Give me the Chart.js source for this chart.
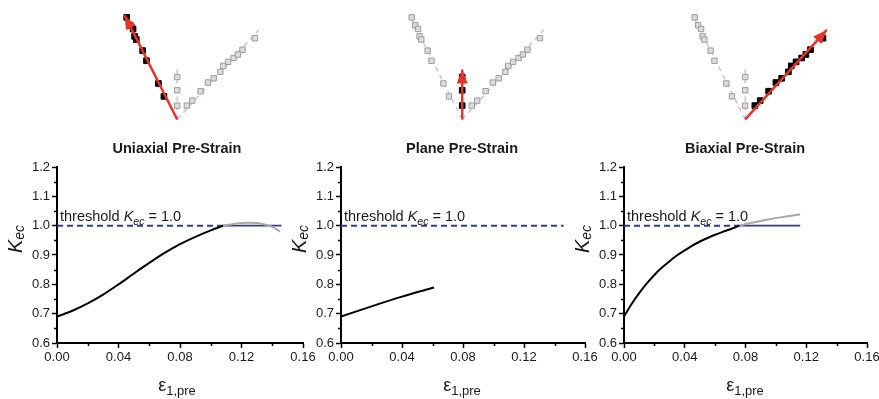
<!DOCTYPE html>
<html>
<head>
<meta charset="utf-8">
<script src="https://cdn.jsdelivr.net/npm/chart.js@4.4.1/dist/chart.umd.min.js"></script>
<style>
  html, body { margin: 0; padding: 0; background: #fff; overflow: hidden; }
  #wrap { position: relative; width: 879px; height: 399px; }
  #wrap canvas { position: absolute; }
</style>
</head>
<body>
<div id="wrap"></div>
<script>
// ---------- strain-path diagrams: minor strain (eps2) vs major strain (eps1) ----------
const uniaxialPathMinor = [-0.263, -0.245, -0.230, -0.222, -0.213, -0.180, -0.160, -0.098, -0.069];
const uniaxialPathMajor = [0.553, 0.510, 0.490, 0.450, 0.433, 0.373, 0.318, 0.195, 0.125];
const planePathMinor = [0, 0, 0];
const planePathMajor = [0.230, 0.158, 0.075];
const biaxialPathMinor = [0.050, 0.078, 0.122, 0.160, 0.190, 0.225, 0.240, 0.265, 0.294, 0.316, 0.340, 0.405];
const biaxialPathMajor = [0.075, 0.102, 0.153, 0.200, 0.223, 0.258, 0.290, 0.312, 0.333, 0.352, 0.378, 0.440];
// end of each loading direction (guide line and arrow tip)
const pathEndMinor = [-0.274, 0, 0.425];
const pathEndMajor = [0.565, 0.270, 0.485];

// ---------- K_ec versus pre-strain ----------
const uniStrain = [0, 0.01, 0.02, 0.03, 0.04, 0.05, 0.06, 0.07, 0.08, 0.09, 0.10, 0.108];
const uniKec    = [0.690, 0.710, 0.735, 0.765, 0.800, 0.837, 0.873, 0.907, 0.937, 0.962, 0.984, 1.000];
const uniStrainBeyond = [0.108, 0.115, 0.120, 0.125, 0.130, 0.135, 0.140, 0.145];
const uniKecBeyond    = [1.000, 1.006, 1.009, 1.010, 1.009, 1.004, 0.996, 0.980];

const planeStrain = [0, 0.02, 0.04, 0.061];
const planeKec    = [0.690, 0.725, 0.758, 0.789];

const biStrain = [0, 0.005, 0.01, 0.015, 0.02, 0.025, 0.03, 0.035, 0.04, 0.045, 0.05, 0.055, 0.06, 0.065, 0.07, 0.076];
const biKec    = [0.690, 0.733, 0.770, 0.803, 0.832, 0.857, 0.879, 0.899, 0.916, 0.932, 0.946, 0.958, 0.969, 0.979, 0.988, 1.000];
const biStrainBeyond = [0.076, 0.085, 0.095, 0.105, 0.116];
const biKecBeyond    = [1.000, 1.011, 1.021, 1.030, 1.038];

// threshold K_ec = 1.0: dashed up to the onset, solid beyond it
const thresholdKec = 1.0;
const thresholdDashEnd  = [0.108, 0.146, 0.076];
const thresholdSolidEnd = [0.146, null, 0.116];

const panelTitles = ['Uniaxial Pre-Strain', 'Plane Pre-Strain', 'Biaxial Pre-Strain'];
const xTickValues = [0, 0.04, 0.08, 0.12, 0.16];
const xTickLabels = ['0.00', '0.04', '0.08', '0.12', '0.16'];
const xMinorTicks = [0.02, 0.06, 0.10, 0.14];
const yTickValues = [0.6, 0.7, 0.8, 0.9, 1.0, 1.1, 1.2];
const yTickLabels = ['0.6', '0.7', '0.8', '0.9', '1.0', '1.1', '1.2'];
const yMinorTicks = [0.65, 0.75, 0.85, 0.95, 1.05, 1.15];

// ---------- layout ----------
const axisLeft = [57, 341, 624];
const plotWidth = [246, 244, 243];
const diagramOrigin = [177, 462, 745];
const FONT = '"Liberation Sans", Arial, Helvetica, sans-serif';
const wrap = document.getElementById('wrap');

Chart.defaults.font.family = FONT;
Chart.defaults.color = '#1a1a1a';

function addCanvas(left, top, w, h) {
  const cv = document.createElement('canvas');
  cv.width = w; cv.height = h;
  cv.style.left = left + 'px'; cv.style.top = top + 'px';
  cv.style.width = w + 'px'; cv.style.height = h + 'px';
  wrap.appendChild(cv);
  return cv;
}
const pts = (xs, ys) => xs.map((x, k) => ({ x: x, y: ys[k] }));

// arrowhead at the end of the first dataset
const arrowHead = {
  id: 'arrowHead',
  afterDatasetsDraw(chart) {
    const meta = chart.getDatasetMeta(0);
    const a = meta.data[0], b = meta.data[meta.data.length - 1];
    const ang = Math.atan2(b.y - a.y, b.x - a.x);
    const L = 14, Wd = 5.5;
    const ctx = chart.ctx;
    ctx.save();
    ctx.fillStyle = '#e3342a';
    ctx.beginPath();
    ctx.moveTo(b.x, b.y);
    ctx.lineTo(b.x - L * Math.cos(ang) + Wd * Math.sin(ang), b.y - L * Math.sin(ang) - Wd * Math.cos(ang));
    ctx.lineTo(b.x - L * Math.cos(ang) - Wd * Math.sin(ang), b.y - L * Math.sin(ang) + Wd * Math.cos(ang));
    ctx.closePath();
    ctx.fill();
    ctx.restore();
  }
};

function makeDiagram(i) {
  const cv = addCanvas(diagramOrigin[i] - 120, 0, 250, 130);
  const paths = [pts(uniaxialPathMinor, uniaxialPathMajor), pts(planePathMinor, planePathMajor), pts(biaxialPathMinor, biaxialPathMajor)];
  const datasets = [];
  // active loading direction arrow
  datasets.push({ type: 'line', data: [{ x: 0, y: 0 }, { x: pathEndMinor[i], y: pathEndMajor[i] }],
    borderColor: '#e3342a', borderWidth: 2.5, pointRadius: 0, clip: false });
  // active path measurements
  datasets.push({ type: 'scatter', data: paths[i], pointStyle: 'rect', pointRadius: 4,
    backgroundColor: '#000', borderColor: '#000', borderWidth: 1, clip: false });
  // other paths
  for (let k = 0; k < 3; k++) {
    if (k === i) continue;
    datasets.push({ type: 'scatter', data: paths[k], pointStyle: 'rect', pointRadius: 3.8,
      backgroundColor: '#dcdcdc', borderColor: '#9c9c9c', borderWidth: 1, clip: false });
  }
  // guide lines for all three directions
  for (let k = 0; k < 3; k++) {
    datasets.push({ type: 'line', data: [{ x: 0, y: 0 }, { x: pathEndMinor[k], y: pathEndMajor[k] }],
      borderColor: '#c3c5ec', borderWidth: 1.5, borderDash: [5, 4], pointRadius: 0, clip: false });
  }
  new Chart(cv, {
    type: 'scatter',
    data: { datasets },
    options: {
      responsive: false, animation: false, events: [],
      layout: { padding: 0 },
      plugins: { legend: { display: false }, tooltip: { enabled: false } },
      scales: {
        x: { type: 'linear', display: false, min: -0.6, max: 0.65 },
        y: { type: 'linear', display: false, min: -0.03, max: 0.62 }
      }
    },
    plugins: [arrowHead]
  });
}

// draws runs of text with italic / subscript parts
function setRunFont(ctx, r) {
  ctx.font = (r.italic ? 'italic ' : '') + (r.bold ? 'bold ' : '') + r.size + 'px ' + FONT;
}
function drawRuns(ctx, runs, x, y) {
  let cx = x;
  for (const r of runs) {
    setRunFont(ctx, r);
    ctx.fillText(r.t, cx, y + (r.dy || 0));
    cx += ctx.measureText(r.t).width;
  }
  return cx - x;
}
function runsWidth(ctx, runs) {
  let w = 0;
  for (const r of runs) { setRunFont(ctx, r); w += ctx.measureText(r.t).width; }
  return w;
}

function makePlot(i, curve, beyond) {
  const left = axisLeft[i] - 57;
  const W = 57 + plotWidth[i] + 18;
  const cv = addCanvas(left, 135, W, 264);
  const titleX = diagramOrigin[i] - left;

  const decor = {
    id: 'decor',
    afterDraw(chart) {
      const ctx = chart.ctx, ca = chart.chartArea;
      const xs = chart.scales.x, ys = chart.scales.y;
      ctx.save();
      // minor ticks
      ctx.strokeStyle = '#000'; ctx.lineWidth = 1.5;
      ctx.beginPath();
      for (const v of yMinorTicks) { const p = Math.round(ys.getPixelForValue(v)) + 0.5; ctx.moveTo(ca.left - 3, p); ctx.lineTo(ca.left, p); }
      for (const v of xMinorTicks) { const p = Math.round(xs.getPixelForValue(v)) + 0.5; ctx.moveTo(p, ca.bottom); ctx.lineTo(p, ca.bottom + 3); }
      ctx.stroke();
      ctx.fillStyle = '#1a1a1a';
      // panel title
      ctx.font = 'bold 14.5px ' + FONT;
      ctx.textAlign = 'center'; ctx.textBaseline = 'middle';
      ctx.fillText(panelTitles[i], titleX, 14);
      ctx.textAlign = 'left'; ctx.textBaseline = 'alphabetic';
      // threshold label
      const ty = ys.getPixelForValue(thresholdKec) - 5;
      drawRuns(ctx, [
        { t: 'threshold ', size: 14.5 },
        { t: 'K', size: 14.5, italic: true },
        { t: 'ec', size: 10.5, italic: true, dy: 4 },
        { t: ' = 1.0', size: 14.5 }
      ], ca.left + 3, ty);
      // y title
      const yRuns = [{ t: 'K', size: 20, italic: true }, { t: 'ec', size: 14, italic: true, dy: 2 }];
      const yw = runsWidth(ctx, yRuns);
      ctx.save();
      ctx.translate(ca.left - 35, 104);
      ctx.rotate(-Math.PI / 2);
      drawRuns(ctx, yRuns, -yw / 2, 0);
      ctx.restore();
      // x title
      const xRuns = [{ t: '\u03B5', size: 18 }, { t: '1,pre', size: 13, dy: 4 }];
      const xw = runsWidth(ctx, xRuns);
      drawRuns(ctx, xRuns, titleX - xw / 2, 256);
      ctx.restore();
    }
  };

  const datasets = [
    { data: pts(curve[0], curve[1]), borderColor: '#000', borderWidth: 2, pointRadius: 0,
      cubicInterpolationMode: 'monotone' }
  ];
  if (beyond) {
    datasets.push({ data: pts(beyond[0], beyond[1]), borderColor: '#a8a8a8', borderWidth: 2, pointRadius: 0,
      cubicInterpolationMode: 'monotone' });
  }
  if (thresholdSolidEnd[i] !== null) {
    datasets.push({ data: [{ x: thresholdDashEnd[i], y: thresholdKec }, { x: thresholdSolidEnd[i], y: thresholdKec }],
      borderColor: '#2a3e9e', borderWidth: 1.8, pointRadius: 0 });
  }
  datasets.push({ data: [{ x: 0, y: thresholdKec }, { x: thresholdDashEnd[i], y: thresholdKec }],
    borderColor: '#2a3e9e', borderWidth: 2, borderDash: [6, 4], pointRadius: 0 });

  const tickFont = { size: 13, family: FONT };
  new Chart(cv, {
    type: 'line',
    data: { datasets },
    options: {
      responsive: false, animation: false, events: [],
      layout: { padding: { top: 32, right: 18, left: 0, bottom: 0 } },
      plugins: { legend: { display: false }, tooltip: { enabled: false }, title: { display: false } },
      scales: {
        x: {
          type: 'linear', min: 0, max: 0.16,
          afterBuildTicks: s => { s.ticks = xTickValues.map(v => ({ value: v })); },
          afterFit: s => { s.height = 56; },
          ticks: { callback: (v, k) => xTickLabels[k], font: tickFont, color: '#1a1a1a', padding: 2, maxRotation: 0, autoSkip: false },
          grid: { drawOnChartArea: false, tickLength: 5, tickColor: '#000', tickWidth: 1.5 },
          border: { color: '#000', width: 2 }
        },
        y: {
          type: 'linear', min: 0.6, max: 1.2,
          afterBuildTicks: s => { s.ticks = yTickValues.map(v => ({ value: v })); },
          afterFit: s => { s.width = 57; },
          ticks: { callback: (v, k) => yTickLabels[k], font: tickFont, color: '#1a1a1a', padding: 2, autoSkip: false },
          grid: { drawOnChartArea: false, tickLength: 5, tickColor: '#000', tickWidth: 1.5 },
          border: { color: '#000', width: 2 }
        }
      }
    },
    plugins: [decor]
  });
}

for (let i = 0; i < 3; i++) makeDiagram(i);
makePlot(0, [uniStrain, uniKec], [uniStrainBeyond, uniKecBeyond]);
makePlot(1, [planeStrain, planeKec], null);
makePlot(2, [biStrain, biKec], [biStrainBeyond, biKecBeyond]);
</script>
</body>
</html>
